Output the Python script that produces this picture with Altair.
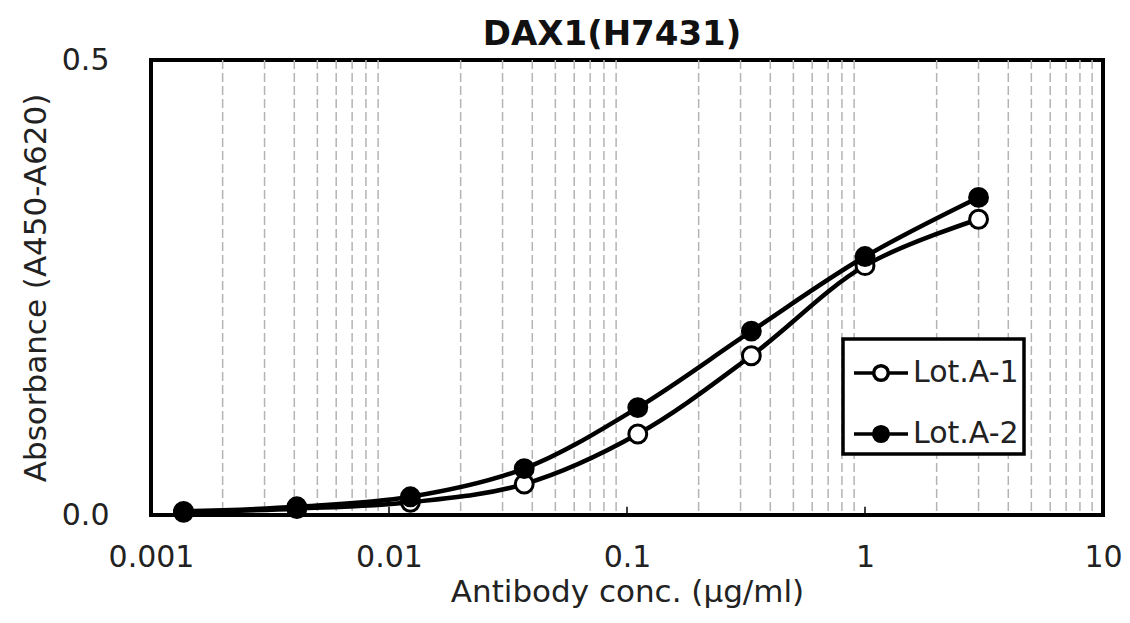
import altair as alt
import pandas as pd

conc = [0.00137, 0.0041, 0.0123, 0.037, 0.111, 0.333, 1.0, 3.0]
lot_a1 = [0.003, 0.007, 0.014, 0.034, 0.089, 0.175, 0.274, 0.325]
lot_a2 = [0.004, 0.009, 0.020, 0.051, 0.118, 0.202, 0.284, 0.349]
lots = ["Lot.A-1", "Lot.A-2"]
x_ticks = [0.001, 0.01, 0.1, 1, 10]
y_ticks = [0.0, 0.5]
minor_grid = [m * d for d in [0.001, 0.01, 0.1, 1] for m in range(2, 10)]
major_inner = [0.01, 0.1, 1]

rows = []
for c, v in zip(conc, lot_a1):
    rows.append({"conc": c, "abs": v, "lot": lots[0]})
for c, v in zip(conc, lot_a2):
    rows.append({"conc": c, "abs": v, "lot": lots[1]})
df = pd.DataFrame(rows)

FONT = "DejaVu Sans"
TXT = "#222222"
xscale = alt.Scale(type="log", domain=[0.001, 10], nice=False)
yscale = alt.Scale(domain=[0, 0.5], nice=False)

xaxis = alt.Axis(values=x_ticks, format="~g", title="Antibody conc. (μg/ml)",
                 grid=False, domain=False, ticks=False, labelPadding=27,
                 labelFontSize=30, titleFontSize=31, titlePadding=5,
                 labelColor=TXT, titleColor=TXT, labelFont=FONT, titleFont=FONT,
                 titleFontWeight="normal", labelFlush=False)
yaxis = alt.Axis(values=y_ticks, format=".1f", title="Absorbance (A450-A620)",
                 grid=False, domain=False, ticks=False, labelPadding=42,
                 labelFontSize=30, titleFontSize=31, titlePadding=9,
                 labelColor=TXT, titleColor=TXT, labelFont=FONT, titleFont=FONT,
                 titleFontWeight="normal")

grid = alt.Chart(pd.DataFrame({"g": minor_grid})).mark_rule(
    color="#b4b4b4", strokeWidth=1.5, strokeDash=[9, 4]
).encode(x=alt.X("g:Q", scale=xscale, axis=xaxis))

inner_ticks = alt.Chart(pd.DataFrame({"t": major_inner})).mark_rule(
    color="black", strokeWidth=1.5
).encode(
    x=alt.X("t:Q", scale=xscale),
    y=alt.datum(0.0, scale=yscale),
    y2=alt.datum(0.009),
)

lines = alt.Chart(df).mark_line(
    color="black", strokeWidth=4.5, interpolate="catmull-rom"
).encode(
    x=alt.X("conc:Q", scale=xscale, axis=xaxis),
    y=alt.Y("abs:Q", scale=yscale, axis=yaxis),
    detail="lot:N",
)

sym = ("M-1,0H-0.27M0.27,0H1"
       "M-0.27,0A0.27,0.27 0 1,0 0.27,0A0.27,0.27 0 1,0 -0.27,0Z")

legend = alt.Legend(
    title=None, orient="none", legendX=692, legendY=279,
    symbolType=sym, symbolSize=2916, symbolStrokeWidth=3.5,
    labelFontSize=30, labelFont=FONT, labelColor=TXT,
    strokeColor="black", fillColor="white",
    padding=5, rowPadding=17, labelOffset=3, symbolOffset=4,
)

points = alt.Chart(df).mark_point(
    filled=True, size=320, strokeWidth=3, opacity=1
).encode(
    x=alt.X("conc:Q", scale=xscale),
    y=alt.Y("abs:Q", scale=yscale),
    fill=alt.Fill("lot:N", scale=alt.Scale(domain=lots, range=["white", "black"]),
                  legend=legend),
    stroke=alt.Stroke("lot:N", scale=alt.Scale(domain=lots, range=["black", "black"]),
                      legend=legend),
)

chart = alt.layer(grid, inner_ticks, lines, points).properties(
    width=952, height=455,
    title=alt.Title("DAX1(H7431)", fontSize=34, font=FONT, fontWeight="bold",
                    color="#111111", offset=-7, anchor="middle", dx=-15),
    autosize=alt.AutoSizeParams(type="none"),
    padding={"left": 143, "top": 52, "right": 19, "bottom": 100},
).configure(background="white").configure_view(
    stroke="black", strokeWidth=4
).configure_legend(strokeWidth=3.5)

chart.save("out.html", embed_options={"renderer": "svg", "actions": False})
